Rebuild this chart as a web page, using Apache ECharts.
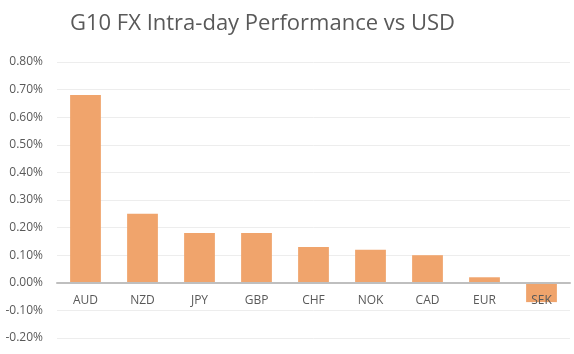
<!DOCTYPE html>
<html>
<head>
<meta charset="utf-8">
<script src="https://cdn.jsdelivr.net/npm/echarts@6/dist/echarts.min.js"></script>
<style>
  html, body { margin: 0; padding: 0; background: #fff; }
  #main { width: 574px; height: 354px; }
</style>
</head>
<body>
<div id="main"></div>
<script>
// 货币
const currencies = ['AUD', 'NZD', 'JPY', 'GBP', 'CHF', 'NOK', 'CAD', 'EUR', 'SEK'];
// 日内涨跌 (%)
const changes = [0.68, 0.25, 0.18, 0.18, 0.13, 0.12, 0.10, 0.02, -0.07];

const chart = echarts.init(document.getElementById('main'));
const option = {
  backgroundColor: '#fff',
  animation: false,
  title: {
    text: 'G10 FX Intra-day Performance vs USD',
    left: 65,
    top: 8,
    textStyle: {
      color: '#595959',
      fontSize: 22,
      fontWeight: 'normal',
      fontFamily: 'Open Sans'
    }
  },
  grid: { left: 57, right: 4, top: 62, bottom: 16, outerBoundsMode: 'none' },
  xAxis: {
    type: 'category',
    data: currencies,
    position: 'bottom',
    z: 5,
    // 轴线放在 0 处（高度 276px 中 0 以下占 55px）
    offset: -55,
    axisLine: { onZero: false, lineStyle: { color: '#bfbfbf', width: 2 } },
    axisTick: { show: false },
    axisLabel: { color: '#595959', fontSize: 12, fontFamily: 'Open Sans', margin: 12 }
  },
  yAxis: {
    type: 'value',
    min: -0.2,
    max: 0.8,
    interval: 0.1,
    axisLine: { show: false },
    axisTick: { show: false },
    splitLine: { lineStyle: { color: '#ededed' } },
    axisLabel: {
      color: '#595959',
      fontSize: 12,
      fontFamily: 'Open Sans',
      margin: 14,
      formatter: v => v.toFixed(2) + '%'
    }
  },
  series: [{
    type: 'bar',
    data: changes,
    barWidth: '54%',
    itemStyle: { color: '#f0a46c' }
  }]
};
chart.setOption(option);
</script>
</body>
</html>
